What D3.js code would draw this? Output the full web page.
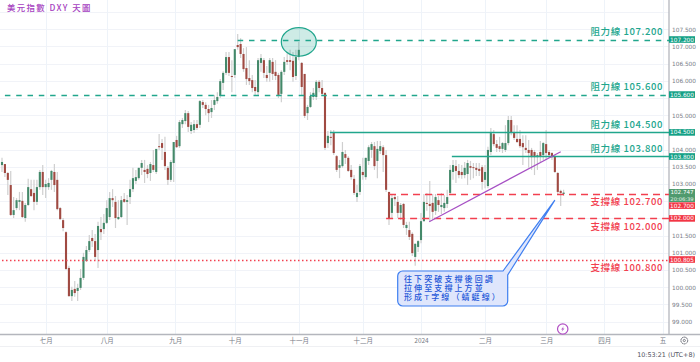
<!DOCTYPE html>
<html>
<head>
<meta charset="utf-8">
<script src="https://cdn.jsdelivr.net/npm/d3@7"></script>
<style>
	html, body {margin: 0; padding: 0; background: #fff; overflow: hidden;}
	svg {display: block;}
	text {font-family: "Noto Sans CJK TC", "DejaVu Sans", sans-serif;}
</style>
</head>
<body>
<div class="dxy"><svg></svg></div>
<script>
const opens = [103.55,103.58,103.32,102.97,102.10,102.30,102.48,102.51,102.01,102.39,
	102.85,102.74,102.48,102.91,103.35,102.91,102.91,103.12,103.35,103.12,
	102.30,101.95,101.60,100.56,99.74,99.95,99.89,99.98,100.27,100.76,
	101.08,101.43,101.34,101.08,101.69,101.69,101.87,102.04,102.59,102.48,
	101.98,102.04,102.56,102.48,102.62,102.85,103.09,103.17,103.47,103.41,
	103.44,103.32,103.55,103.35,104.10,104.19,103.93,103.47,103.12,103.61,
	104.28,104.10,104.74,104.83,105.06,104.54,104.57,104.74,104.72,105.38,
	105.30,105.18,105.09,105.30,105.41,105.56,105.94,106.23,106.69,106.14,
	106.17,107.04,107.07,106.78,106.37,106.08,106.02,105.82,105.67,106.52,
	106.60,106.17,106.23,106.55,106.26,106.17,105.62,106.26,106.60,106.60,
	106.58,106.14,106.69,106.52,106.20,105.06,105.24,105.53,105.53,105.97,
	105.79,105.65,104.19,104.37,104.51,103.81,103.47,103.52,103.87,103.76,
	103.41,103.15,102.62,102.77,103.35,103.20,103.67,103.99,104.10,103.67,
	103.96,104.07,103.84,102.77,102.16,102.62,102.48,102.16,102.42,101.72,
	101.66,101.55,100.88,101.17,101.37,101.92,102.45,102.42,102.45,102.22,
	102.53,102.33,102.30,102.42,102.74,103.35,103.52,103.38,103.35,103.26,
	103.29,103.52,103.49,103.47,103.44,103.49,103.12,102.94,103.93,104.45,
	104.16,104.10,104.02,103.99,104.19,104.86,104.51,104.31,104.31,104.19,
	104.05,103.99,103.99,103.93,103.78,103.93,103.84,104.16,103.93,103.90,
	103.81,103.32,102.80,102.71];
const highs = [103.76,103.58,103.35,103.38,102.62,102.59,102.77,102.77,102.45,103.15,
	103.12,103.12,103.12,103.41,103.55,103.12,103.17,103.41,103.58,103.35,
	102.33,102.01,101.63,100.62,100.01,100.18,100.10,100.53,101.00,101.20,
	101.52,101.66,101.55,101.90,102.04,102.13,102.53,102.77,102.85,102.65,
	102.53,102.65,102.74,102.68,103.12,103.47,103.41,103.47,103.70,103.70,
	103.55,103.64,103.99,104.02,104.45,104.31,104.37,103.52,103.70,104.22,
	104.40,104.86,104.92,105.15,105.12,104.80,104.86,104.86,105.44,105.44,
	105.38,105.30,105.44,105.59,105.67,106.05,106.28,106.84,106.84,106.60,
	106.92,107.36,107.24,106.95,106.98,106.60,106.17,106.02,106.66,106.78,
	106.66,106.43,106.66,106.66,106.60,106.23,106.31,106.69,106.84,106.90,
	106.84,106.90,107.13,106.55,106.20,105.30,105.67,105.79,106.02,106.02,
	106.02,105.65,104.54,104.57,104.57,103.84,103.70,104.22,103.99,103.81,
	103.55,103.26,102.97,103.58,103.76,103.76,104.13,104.22,104.22,104.25,
	104.25,104.13,103.99,102.77,102.68,102.68,102.65,102.45,102.45,101.90,
	101.90,101.60,101.28,101.37,102.16,102.71,102.74,103.09,102.71,102.71,
	102.65,102.74,102.68,102.83,103.55,103.70,103.70,103.58,103.55,103.64,
	103.70,103.67,103.61,103.61,103.61,103.55,103.55,104.08,104.63,104.57,
	104.28,104.37,104.22,104.71,104.98,104.98,104.71,104.71,104.57,104.42,
	104.42,104.28,104.05,103.99,103.90,104.25,104.22,104.57,103.99,103.93,
	103.84,103.35,102.83,102.83];
const lows = [103.35,103.20,102.68,102.07,102.01,102.24,102.24,102.01,101.90,102.36,
	102.62,102.24,102.39,102.83,102.68,102.59,102.83,102.83,102.77,102.24,
	101.95,101.63,100.50,99.72,99.60,99.72,99.60,99.92,100.21,100.73,
	101.02,101.17,100.79,100.56,101.37,101.55,101.84,101.95,102.33,101.72,
	101.95,102.01,102.45,101.81,102.42,102.77,103.00,103.12,103.26,103.03,
	103.17,103.09,103.35,103.29,103.99,103.70,103.41,102.97,103.06,103.06,
	104.05,104.05,104.63,104.74,104.51,104.45,104.48,104.57,104.63,105.21,
	105.00,104.80,104.92,105.15,105.33,105.50,105.73,106.17,106.14,105.67,
	106.08,106.90,106.66,106.26,105.88,105.88,105.67,105.59,105.59,106.26,
	106.08,105.97,105.97,106.02,106.02,105.50,105.38,106.17,106.46,106.31,
	105.97,106.02,106.60,105.59,104.92,104.86,105.21,105.44,105.44,105.67,
	105.56,103.99,104.05,104.13,103.84,103.35,103.17,103.47,103.58,103.35,
	103.12,102.68,102.48,102.68,103.12,103.12,103.55,103.76,103.41,103.17,
	103.87,103.35,102.77,101.81,102.01,102.36,102.01,101.95,101.72,101.52,
	101.37,100.91,100.62,101.02,101.28,101.90,102.22,101.90,101.95,102.10,
	102.19,102.13,102.19,102.30,102.71,103.12,103.03,103.17,103.15,103.17,
	102.97,103.12,103.17,103.23,103.23,102.83,102.88,102.88,103.84,104.10,
	103.93,103.93,103.90,103.93,104.13,104.42,104.28,104.19,104.05,103.55,
	103.90,103.47,103.41,103.26,103.41,103.64,103.70,103.70,103.76,103.70,
	103.32,102.71,102.36,102.65];
const closes = [103.64,103.32,103.12,102.10,102.24,102.53,102.53,102.04,102.39,102.91,
	102.65,102.48,102.91,103.35,102.91,103.00,103.03,103.38,102.97,102.27,
	101.98,101.72,100.53,99.74,99.92,99.83,99.98,100.27,100.88,101.08,
	101.34,101.34,100.88,101.78,101.60,101.87,102.30,102.59,102.53,102.01,
	102.04,102.53,102.48,102.53,102.85,103.17,103.20,103.47,103.61,103.35,
	103.29,103.58,103.41,104.02,104.07,104.05,103.52,103.12,103.64,104.22,
	104.07,104.80,104.86,105.06,104.66,104.72,104.74,104.63,105.41,105.30,
	105.18,105.06,105.21,105.44,105.53,105.99,106.23,106.69,106.23,106.11,
	106.92,106.98,106.78,106.34,106.05,105.99,105.79,105.70,106.60,106.66,
	106.23,106.08,106.60,106.20,106.14,105.59,106.26,106.55,106.55,106.55,
	106.11,106.69,106.90,105.82,104.98,105.24,105.56,105.65,105.97,105.79,
	105.62,104.05,104.40,104.34,103.90,103.41,103.55,103.93,103.76,103.38,
	103.20,102.74,102.74,103.52,103.26,103.76,104.07,104.16,103.52,104.02,
	104.10,103.84,102.83,102.01,102.59,102.56,102.16,102.39,101.81,101.81,
	101.46,100.99,101.26,101.34,101.92,102.48,102.42,102.36,102.19,102.62,
	102.39,102.39,102.45,102.62,103.41,103.55,103.38,103.26,103.26,103.47,
	103.61,103.47,103.47,103.41,103.38,103.06,103.35,103.99,104.48,104.16,
	104.05,104.02,104.19,104.19,104.86,104.51,104.34,104.22,104.10,104.07,
	103.99,103.90,103.78,103.78,103.84,103.81,104.19,103.90,103.84,103.78,
	103.35,102.77,102.74,102.75];

const monthIndex = [15, 36, 59.5, 80, 102, 124, 144, 166, 187, 207, 227];
const monthLabels = ["七月", "八月", "九月", "十月", "十一月", "十二月", "2024", "二月", "三月", "四月", "五"];
const gridPrices = [99, 99.5, 100, 100.5, 101, 101.5, 102, 102.5, 103, 103.5, 104, 104.5, 105, 105.5, 106, 106.5, 107, 107.5, 108];
//quelli coperti dai tag a destra non hanno etichetta
const priceTicks = [99, 99.5, 100, 100.5, 101, 101.5, 103, 103.5, 104, 105, 106, 106.5, 107, 107.5];

const levelValues = [107.2, 105.6, 104.5, 103.8, 102.7, 102, 100.805];
const levelStart = [81, 1, 112.7, 154.6, 133, 132, 0];
const levelKinds = ["res", "res", "res", "res", "sup", "sup", "sup"];
const levelDash = ["5.5 5.8", "5.5 5.8", null, null, "7 5", "7 5", "1.5 2.5"];
const levelNames = ["阻力線 107.200", "阻力線 105.600", "阻力線 104.500", "阻力線 103.800", "支撐線 102.700", "支撐線 102.000", "支撐線 100.800"];
const levelTags = ["107.200", "105.600", "104.500", "103.800", "102.700", "102.000", "100.805"];

const trendIndex = [146.8, 192];
const trendPrice = [101.9, 103.94];
const circleIndex = 102;
const circlePrice = 107.13;
const calloutIndex = 190;
const calloutPrice = 102.53;
const calloutLines = ["往下突破支撐後回調", "拉伸至支撐上方並", "形成T字線（蜻蜓線）"];
const lastPrice = "102.747";
const countdown = "20:06:39";
const titleText = "美元指數 DXY 天圖";
const clockText = "10:53:21 (UTC+8)";

const width = 700, height = 362;
const plotRight = 669, plotBottom = 334.5;
const teal = "#21a68d", red = "#f2404f", upBody = "#44896a", downBody = "#a04a42";

const svg = d3.select(".dxy").select("svg").
	attr("width", width).
	attr("height", height).
	attr("viewBox", "0 0 " + width + " " + height);

const x = d3.scaleLinear().domain([0, 193]).range([2, 563.6]);
const y = d3.scaleLinear().domain([99, 107.5]).range([321.6, 29.2]);
const crisp = v => Math.round(y(v)) + 0.5;

const candles = opens.map((o, i) => ({i: i, o: o, h: highs[i], l: lows[i], c: closes[i]}));
const levels = levelValues.map((v, i) => ({v: v, start: levelStart[i], kind: levelKinds[i], dash: levelDash[i], name: levelNames[i], tag: levelTags[i]}));

//griglia
svg.append("g").selectAll("line").
	data(gridPrices).
	enter().append("line").
	attr("x1", 0).
	attr("x2", plotRight).
	attr("y1", d => crisp(d)).
	attr("y2", d => crisp(d)).
	style("stroke", "#f1f3f8");
svg.append("g").selectAll("line").
	data(monthIndex).
	enter().append("line").
	attr("x1", d => Math.round(x(d)) + 0.5).
	attr("x2", d => Math.round(x(d)) + 0.5).
	attr("y1", 0).
	attr("y2", plotBottom).
	style("stroke", "#eef3f9");

//assi
const xAxis = d3.axisBottom(x).
	tickValues(monthIndex).
	tickSize(0).
	tickPadding(3.5).
	tickFormat((d, i) => monthLabels[i]);
const gx = svg.append("g").
	attr("transform", "translate(0," + plotBottom + ")").
	call(xAxis);
gx.select(".domain").remove();
gx.selectAll("text").
	style("font-size", "6.5px").
	style("fill", "#777b86");

const yAxis = d3.axisRight(y).
	tickValues(priceTicks).
	tickSize(0).
	tickPadding(3).
	tickFormat(d3.format(".3f"));
const gy = svg.append("g").
	attr("transform", "translate(" + plotRight + ",0)").
	call(yAxis);
gy.select(".domain").remove();
gy.selectAll("text").
	style("font-family", "'DejaVu Sans'").
	style("font-size", "5.8px").
	style("fill", "#777b86");

svg.append("line").
	attr("x1", plotRight).attr("x2", plotRight).
	attr("y1", 0).attr("y2", plotBottom).
	style("stroke", "#b4b6bd").style("stroke-width", 1.3);
svg.append("line").
	attr("x1", 0).attr("x2", width).
	attr("y1", plotBottom).attr("y2", plotBottom).
	style("stroke", "#b4b6bd").style("stroke-width", 1.3);
svg.append("line").
	attr("x1", 0).attr("x2", width).
	attr("y1", 346.5).attr("y2", 346.5).
	style("stroke", "#eff0f3");

//candele
const candle = svg.append("g").selectAll("g").
	data(candles).
	enter().append("g");
candle.append("line").
	attr("x1", d => x(d.i)).
	attr("x2", d => x(d.i)).
	attr("y1", d => y(d.h)).
	attr("y2", d => y(d.l)).
	style("stroke", "#cfcfcf").
	style("stroke-width", 1.2);
candle.append("rect").
	attr("x", d => x(d.i) - 1.05).
	attr("width", 2.1).
	attr("y", d => y(Math.max(d.o, d.c))).
	attr("height", d => Math.max(1, Math.abs(y(d.o) - y(d.c)))).
	style("fill", d => d.c >= d.o ? upBody : downBody);

//livelli
const level = svg.append("g").selectAll("g").
	data(levels).
	enter().append("g");
level.append("line").
	attr("x1", d => x(d.start)).
	attr("x2", plotRight).
	attr("y1", d => crisp(d.v)).
	attr("y2", d => crisp(d.v)).
	style("stroke", d => d.kind === "res" ? teal : red).
	style("stroke-width", 1.3).
	style("stroke-dasharray", d => d.dash);
level.append("text").
	attr("x", 663).
	attr("y", d => y(d.v) + (d.kind === "res" ? -7.5 : 7.7)).
	attr("dy", "0.36em").
	attr("text-anchor", "end").
	style("font-size", "9.5px").
	style("font-weight", 500).
	style("letter-spacing", "0.6px").
	style("fill", d => d.kind === "res" ? teal : red).
	text(d => d.name);
//il tag 102.700 scende sotto il prezzo corrente
const tagY = d => d.tag === "102.700" ? y(d.v) + 11.3 : y(d.v);
level.append("rect").
	attr("x", plotRight).
	attr("width", 26).
	attr("y", d => tagY(d) - 3.3).
	attr("height", 6.6).
	style("fill", d => d.kind === "res" ? "#14a085" : "#f23645");
level.append("text").
	attr("x", 682).
	attr("y", d => tagY(d)).
	attr("dy", "0.36em").
	attr("text-anchor", "middle").
	style("font-family", "'DejaVu Sans'").
	style("font-size", "5.8px").
	style("fill", "#fff").
	text(d => d.tag);

//prezzo corrente
svg.append("rect").
	attr("x", plotRight).attr("y", 189).
	attr("width", 26).attr("height", 13).
	style("fill", "#4f9a6e");
svg.append("text").
	attr("x", 682).attr("y", 192.4).attr("dy", "0.36em").
	attr("text-anchor", "middle").
	style("font-family", "'DejaVu Sans'").
	style("font-size", "5.6px").
	style("fill", "#fff").
	text(lastPrice);
svg.append("text").
	attr("x", 682).attr("y", 199).attr("dy", "0.36em").
	attr("text-anchor", "middle").
	style("font-family", "'DejaVu Sans'").
	style("font-size", "5.2px").
	style("fill", "#e6f2ea").
	text(countdown);

//trendline
svg.append("line").
	attr("x1", x(trendIndex[0])).
	attr("x2", x(trendIndex[1])).
	attr("y1", y(trendPrice[0])).
	attr("y2", y(trendPrice[1])).
	style("stroke", "#a64fc4").
	style("stroke-width", 1.2);

//ellisse
svg.append("ellipse").
	attr("cx", x(circleIndex)).
	attr("cy", y(circlePrice)).
	attr("rx", 17.5).
	attr("ry", 14.3).
	style("fill", teal).
	style("fill-opacity", 0.22).
	style("stroke", teal).
	style("stroke-width", 1.2);

//fumetto
const tipX = x(calloutIndex), tipY = y(calloutPrice);
svg.append("path").
	attr("d", "M402.7,271H503L" + tipX + "," + tipY + "L507.7,275V301A5,5 0 0 1 502.7,306H402.7A5,5 0 0 1 397.7,301V276A5,5 0 0 1 402.7,271Z").
	style("fill", "#dfe6fc").
	style("stroke", "#3f7ff0").
	style("stroke-width", 1.2);
svg.append("g").selectAll("text").
	data(calloutLines).
	enter().append("text").
	attr("x", 404).
	attr("y", (d, i) => 279.4 + i * 9).
	attr("dy", "0.36em").
	style("font-family", "'Liberation Sans', 'Noto Sans CJK TC'").
	style("font-size", "8px").
	style("font-weight", 500).
	style("letter-spacing", "2.1px").
	style("fill", "#2457d8").
	text(d => d);

//titolo e piede
svg.append("text").
	attr("x", 7).attr("y", 8).attr("dy", "0.36em").
	style("font-size", "8.4px").
	style("letter-spacing", "1.4px").
	style("font-weight", 500).
	style("fill", "#a63fc0").
	text(titleText);
svg.append("text").
	attr("x", 695).attr("y", 355).attr("dy", "0.36em").
	attr("text-anchor", "end").
	style("font-family", "'DejaVu Sans'").
	style("font-size", "6.4px").
	style("fill", "#50535e").
	text(clockText);

//icone
const gear = svg.append("g").attr("transform", "translate(684.3,340.5)");
gear.append("circle").attr("r", 3.4).style("fill", "none").style("stroke", "#62656f").style("stroke-width", 1).style("stroke-dasharray", "1.7 0.5");
gear.append("circle").attr("r", 1.1).style("fill", "none").style("stroke", "#62656f").style("stroke-width", 0.8);

const bolt = svg.append("g").attr("transform", "translate(" + x(192.7) + ",329)");
bolt.append("circle").attr("r", 5.2).style("fill", "#fff").style("stroke", "#b14fc4").style("stroke-width", 1.2);
bolt.append("path").attr("d", "M1.2,-3L-1.6,0.4H0L-1.2,3L1.7,-0.5H0Z").style("fill", "#b14fc4");
</script>
</body>
</html>
